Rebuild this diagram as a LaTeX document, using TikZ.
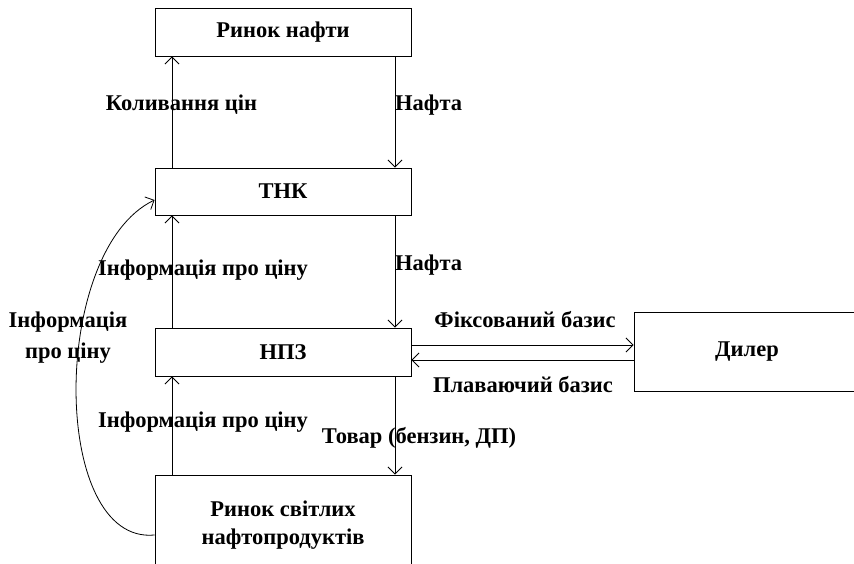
\documentclass[tikz,border=0pt]{standalone}
\usepackage{fontspec}
\setmainfont{Liberation Serif}
\usetikzlibrary{arrows.meta}
\begin{document}
\begin{tikzpicture}[x=1pt,y=-1pt,
  box/.style={draw,line width=0.9pt,rectangle,inner sep=0pt,font=\fontsize{22.5}{28}\selectfont\bfseries,align=center},
  lbl/.style={inner sep=0pt,font=\fontsize{22.5}{31}\selectfont\bfseries,align=center},
  arr/.style={line width=0.8pt,-{Straight Barb[length=7pt,width=14pt,line width=0.8pt]}}]
\useasboundingbox (0,0) rectangle (854,564);
\clip (0,0) rectangle (854,564);
\node[box,minimum width=256pt,minimum height=48pt] (rn) at (283,32) {Ринок нафти};
\node[box,minimum width=256pt,minimum height=47pt] (tnk) at (283,191.5) {ТНК};
\node[box,minimum width=256pt,minimum height=48pt] (npz) at (283,352) {НПЗ};
\node[box,minimum width=226pt,minimum height=79pt] (dl) at (747,351.5) {Дилер};
\node[box,minimum width=256pt,minimum height=100pt] (mk) at (283,525) {Ринок світлих\\нафтопродуктів};
% vertical arrows
\draw[arr] ([xshift=-111pt]tnk.north) -- ([xshift=-111pt]rn.south);
\draw[arr] ([xshift=112pt]rn.south) -- ([xshift=112pt]tnk.north);
\draw[arr] ([xshift=-111pt]npz.north) -- ([xshift=-111pt]tnk.south);
\draw[arr] ([xshift=112pt]tnk.south) -- ([xshift=112pt]npz.north);
\draw[arr] ([xshift=-111pt]mk.north) -- ([xshift=-111pt]npz.south);
\draw[arr] ([xshift=112pt]npz.south) -- ([xshift=112pt]mk.north);
% dealer arrows
\draw[arr] ([yshift=7pt]npz.east) -- ([yshift=6.5pt]dl.west);
\draw[arr] ([yshift=-8.5pt]dl.west) -- ([yshift=-8pt]npz.east);
% curve
\draw[arr] ([yshift=-10pt]mk.west) .. controls (50,545) and (50,250) .. ([yshift=-8.5pt]tnk.west);
% labels
\node[lbl] (l1) at (181.5,105) {Коливання цін};
\node[lbl,anchor=west] (l2) at (395,105) {Нафта};
\node[lbl] (l3) at (203,270) {Інформація про ціну};
\node[lbl,anchor=west] (l4) at (395,265) {Нафта};
\node[lbl] (l5) at (203,422) {Інформація про ціну};
\node[lbl] (l6) at (419,438) {Товар (бензин, ДП)};
\node[lbl] (l7) at (525,320) {Фіксований базис};
\node[lbl] (l8) at (523,385) {Плаваючий базис};
\node[lbl] (l9) at (68,337.5) {Інформація\\про ціну};
\end{tikzpicture}
\end{document}
